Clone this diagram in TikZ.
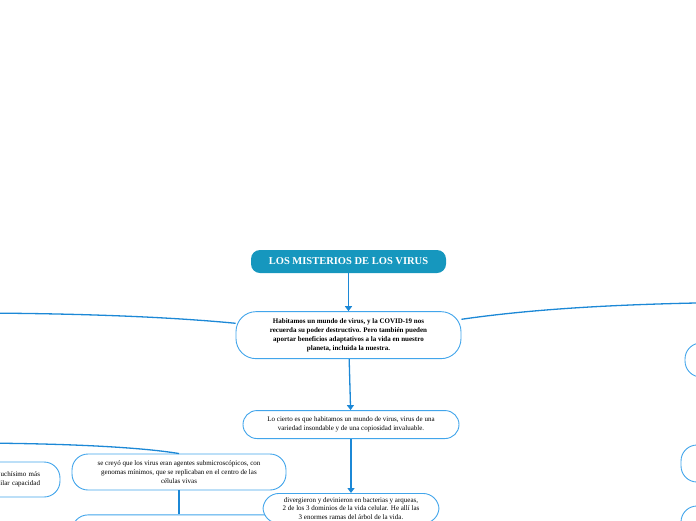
\documentclass[tikz,border=0pt]{standalone}
\usepackage{fontspec}
\setmainfont{Liberation Serif}
\usepackage{tikz}
\usetikzlibrary{arrows.meta,positioning}

\definecolor{boxblue}{RGB}{66,165,235}
\definecolor{linkblue}{RGB}{28,136,214}
\definecolor{titleteal}{RGB}{22,151,190}

\begin{document}
\begin{tikzpicture}[
      x=1pt, y=-1pt,
      font=\fontsize{7}{9}\selectfont,
      topic/.style={
        fill=titleteal, rounded corners=9pt, align=center, text=white,
        minimum width=195pt, minimum height=23pt,
        font=\fontsize{10.5}{12}\selectfont\bfseries},
      idea/.style={
        draw=boxblue, fill=white, line width=0.9pt, rounded corners=16pt,
        align=center, inner sep=2pt},
      link/.style={draw=linkblue, line width=1.3pt},
      arr/.style={link, -{Triangle[width=7pt,length=5pt]}},
    ]
    \useasboundingbox (0,0) rectangle (696,520);

    \node[topic] (title) at (348.5,261.5) {LOS MISTERIOS DE LOS VIRUS};
    \node[idea, below=38pt of title, minimum width=225pt, minimum height=47pt,
          rounded corners=20pt, font=\fontsize{7}{9}\selectfont\bfseries] (habitamos)
      {Habitamos un mundo de virus, y la COVID-19 nos\\
       recuerda su poder destructivo. Pero también pueden\\
       aportar beneficios adaptativos a la vida en nuestro\\
       planeta, incluida la nuestra.};
    \node[idea, below=51pt of habitamos, xshift=2.5pt, minimum width=216pt,
          minimum height=28pt, rounded corners=14pt] (cierto)
      {Lo cierto es que habitamos un mundo de virus, virus de una\\
       variedad insondable y de una copiosidad invaluable.};

    % left branch (its parent lies off the page)
    \node[idea, minimum width=214pt, minimum height=36pt] (creyo) at (179,472)
      {se creyó que los virus eran agentes submicroscópicos, con\\
       genomas mínimos, que se replicaban en el centro de las\\
       células vivas};
    \node[idea, below=24pt of creyo, minimum width=214pt, minimum height=36pt] (creyonext) {};
    \node[idea, minimum width=210pt, minimum height=35pt, align=right,
          text width=170pt] (leftcut) at (-45,479.5)
      {uchísimo más\\ilar capacidad};

    \node[idea, below=54pt of cierto, minimum width=176pt, minimum height=30pt,
          font=\fontsize{7}{8.2}\selectfont] (divergieron)
      {divergieron y devinieron en bacterias y arqueas,\\
       2 de los 3 dominios de la vida celular. He allí las\\
       3 enormes ramas del árbol de la vida.};

    % right branch, mostly off the page
    \node[idea, minimum width=200pt, minimum height=34pt] (rightA) at (785,360) {};
    \node[idea, minimum width=200pt, minimum height=37pt] (rightB) at (781,463.5) {};
    \node[idea, minimum width=200pt, minimum height=36pt] (rightC) at (781,524) {};

    \coordinate (westend) at (-40,313);
    \coordinate (eastend) at (800,302);
    \coordinate (creyoroot) at (-40,443);

    \draw[arr] (title) -- (habitamos);
    \draw[arr] (habitamos) -- (cierto);
    \draw[arr] (cierto) -- (divergieron);
    \draw[link] (creyo) -- (creyonext);
    \draw[link] (habitamos.174) .. controls (160,316) and (60,313) .. (westend);
    \draw[link] (habitamos.8) .. controls (540,308) and (640,302) .. (eastend);
    \draw[link] (creyoroot) .. controls (60,443) and (140,447) .. (creyo.north);
  \end{tikzpicture}
\end{document}
